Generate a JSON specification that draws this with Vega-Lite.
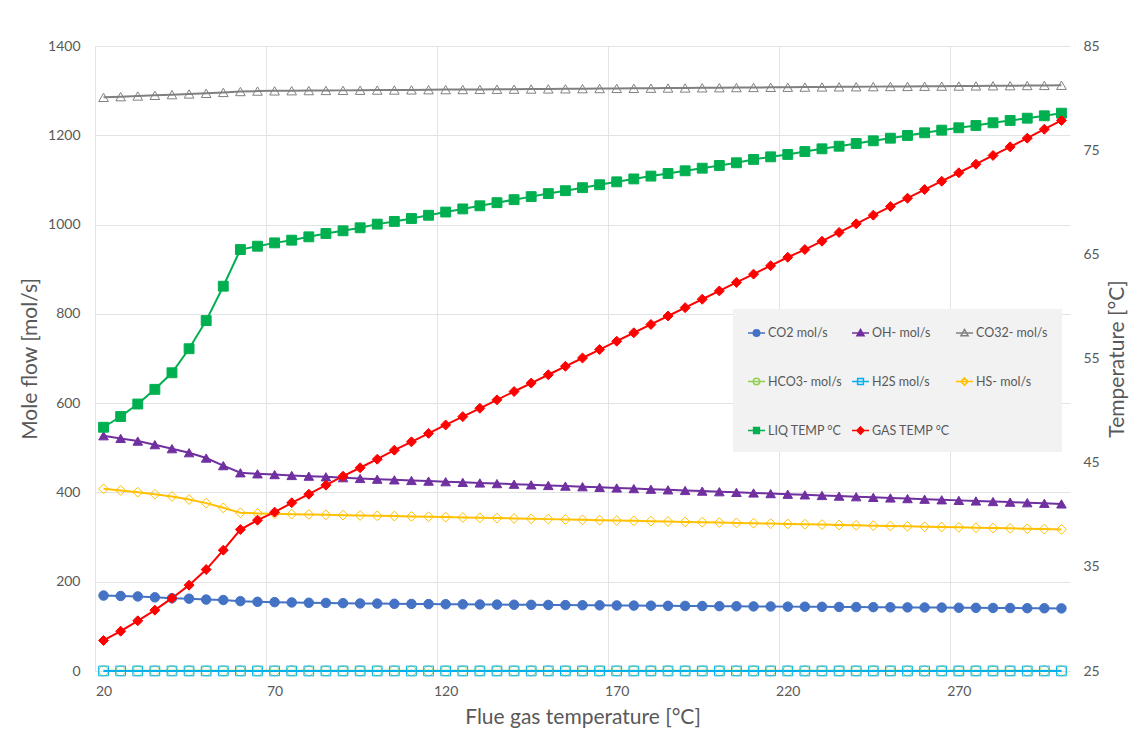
{
  "$schema": "https://vega.github.io/schema/vega-lite/v6.json",
  "width": 975,
  "height": 625,
  "autosize": {"type": "none"},
  "padding": {"left": 95, "top": 46, "right": 64, "bottom": 67},
  "background": "white",
  "config": {
    "font": "Lato",
    "view": {"stroke": null},
    "axis": {
      "labelFont": "Lato", "titleFont": "Lato", "labelColor": "#595959", "titleColor": "#595959",
      "titleFontWeight": "normal", "domain": false, "ticks": false, "gridColor": "#e3e3e3",
      "labelFontSize": 14, "titleFontSize": 21
    }
  },
  "data": {"values": [
    {"T":20,"CO2 mol/s":169,"OH- mol/s":527,"CO32- mol/s":1285,"HCO3- mol/s":0.3,"H2S mol/s":0.1,"HS- mol/s":408,"LIQ TEMP °C":48.40,"GAS TEMP °C":27.93},
    {"T":25,"CO2 mol/s":168,"OH- mol/s":521,"CO32- mol/s":1286.5,"HCO3- mol/s":0.3,"H2S mol/s":0.1,"HS- mol/s":404.5,"LIQ TEMP °C":49.43,"GAS TEMP °C":28.82},
    {"T":30,"CO2 mol/s":167,"OH- mol/s":515,"CO32- mol/s":1288,"HCO3- mol/s":0.3,"H2S mol/s":0.1,"HS- mol/s":400.5,"LIQ TEMP °C":50.63,"GAS TEMP °C":29.82},
    {"T":35,"CO2 mol/s":165,"OH- mol/s":507,"CO32- mol/s":1289.5,"HCO3- mol/s":0.3,"H2S mol/s":0.1,"HS- mol/s":396,"LIQ TEMP °C":52.04,"GAS TEMP °C":30.84},
    {"T":40,"CO2 mol/s":163,"OH- mol/s":498,"CO32- mol/s":1291,"HCO3- mol/s":0.3,"H2S mol/s":0.1,"HS- mol/s":391,"LIQ TEMP °C":53.63,"GAS TEMP °C":31.99},
    {"T":45,"CO2 mol/s":162,"OH- mol/s":489,"CO32- mol/s":1292.5,"HCO3- mol/s":0.3,"H2S mol/s":0.1,"HS- mol/s":384,"LIQ TEMP °C":55.94,"GAS TEMP °C":33.24},
    {"T":50,"CO2 mol/s":160,"OH- mol/s":477,"CO32- mol/s":1294,"HCO3- mol/s":0.3,"H2S mol/s":0.1,"HS- mol/s":376,"LIQ TEMP °C":58.64,"GAS TEMP °C":34.74},
    {"T":55,"CO2 mol/s":159,"OH- mol/s":460,"CO32- mol/s":1296,"HCO3- mol/s":0.3,"H2S mol/s":0.1,"HS- mol/s":365.5,"LIQ TEMP °C":61.94,"GAS TEMP °C":36.60},
    {"T":60,"CO2 mol/s":156.5,"OH- mol/s":444,"CO32- mol/s":1298,"HCO3- mol/s":0.3,"H2S mol/s":0.1,"HS- mol/s":354.5,"LIQ TEMP °C":65.46,"GAS TEMP °C":38.58},
    {"T":65,"CO2 mol/s":155,"OH- mol/s":441.7,"CO32- mol/s":1299,"HCO3- mol/s":0.3,"H2S mol/s":0.1,"HS- mol/s":353,"LIQ TEMP °C":65.78,"GAS TEMP °C":39.48},
    {"T":70,"CO2 mol/s":154.2,"OH- mol/s":440,"CO32- mol/s":1299.5,"HCO3- mol/s":0.3,"H2S mol/s":0.1,"HS- mol/s":352,"LIQ TEMP °C":66.10,"GAS TEMP °C":40.25},
    {"T":75,"CO2 mol/s":153.5,"OH- mol/s":438,"CO32- mol/s":1299.8,"HCO3- mol/s":0.3,"H2S mol/s":0.1,"HS- mol/s":351.3,"LIQ TEMP °C":66.36,"GAS TEMP °C":41.15},
    {"T":80,"CO2 mol/s":152.8,"OH- mol/s":436.5,"CO32- mol/s":1300.1,"HCO3- mol/s":0.3,"H2S mol/s":0.1,"HS- mol/s":350.6,"LIQ TEMP °C":66.68,"GAS TEMP °C":41.97},
    {"T":85,"CO2 mol/s":152.5,"OH- mol/s":435,"CO32- mol/s":1300.4,"HCO3- mol/s":0.3,"H2S mol/s":0.1,"HS- mol/s":349.8,"LIQ TEMP °C":67.00,"GAS TEMP °C":42.84},
    {"T":90,"CO2 mol/s":152,"OH- mol/s":433,"CO32- mol/s":1300.6,"HCO3- mol/s":0.3,"H2S mol/s":0.1,"HS- mol/s":349.1,"LIQ TEMP °C":67.26,"GAS TEMP °C":43.70},
    {"T":95,"CO2 mol/s":151.3,"OH- mol/s":431.3,"CO32- mol/s":1300.9,"HCO3- mol/s":0.3,"H2S mol/s":0.1,"HS- mol/s":348.4,"LIQ TEMP °C":67.55,"GAS TEMP °C":44.51},
    {"T":100,"CO2 mol/s":151,"OH- mol/s":429.7,"CO32- mol/s":1301.2,"HCO3- mol/s":0.3,"H2S mol/s":0.1,"HS- mol/s":347.7,"LIQ TEMP °C":67.90,"GAS TEMP °C":45.33},
    {"T":105,"CO2 mol/s":150.5,"OH- mol/s":428.2,"CO32- mol/s":1301.4,"HCO3- mol/s":0.3,"H2S mol/s":0.1,"HS- mol/s":347.0,"LIQ TEMP °C":68.16,"GAS TEMP °C":46.20},
    {"T":110,"CO2 mol/s":150.2,"OH- mol/s":426.8,"CO32- mol/s":1301.7,"HCO3- mol/s":0.3,"H2S mol/s":0.1,"HS- mol/s":346.3,"LIQ TEMP °C":68.44,"GAS TEMP °C":47.00},
    {"T":115,"CO2 mol/s":149.9,"OH- mol/s":425.4,"CO32- mol/s":1302.0,"HCO3- mol/s":0.3,"H2S mol/s":0.1,"HS- mol/s":345.5,"LIQ TEMP °C":68.75,"GAS TEMP °C":47.81},
    {"T":120,"CO2 mol/s":149.6,"OH- mol/s":424.0,"CO32- mol/s":1302.3,"HCO3- mol/s":0.3,"H2S mol/s":0.1,"HS- mol/s":344.8,"LIQ TEMP °C":69.06,"GAS TEMP °C":48.62},
    {"T":125,"CO2 mol/s":149.3,"OH- mol/s":422.6,"CO32- mol/s":1302.5,"HCO3- mol/s":0.3,"H2S mol/s":0.1,"HS- mol/s":344.0,"LIQ TEMP °C":69.36,"GAS TEMP °C":49.42},
    {"T":130,"CO2 mol/s":149.0,"OH- mol/s":421.2,"CO32- mol/s":1302.8,"HCO3- mol/s":0.3,"H2S mol/s":0.1,"HS- mol/s":343.2,"LIQ TEMP °C":69.66,"GAS TEMP °C":50.22},
    {"T":135,"CO2 mol/s":148.7,"OH- mol/s":419.8,"CO32- mol/s":1303.1,"HCO3- mol/s":0.3,"H2S mol/s":0.1,"HS- mol/s":342.5,"LIQ TEMP °C":69.96,"GAS TEMP °C":51.03},
    {"T":140,"CO2 mol/s":148.4,"OH- mol/s":418.4,"CO32- mol/s":1303.3,"HCO3- mol/s":0.3,"H2S mol/s":0.1,"HS- mol/s":341.7,"LIQ TEMP °C":70.25,"GAS TEMP °C":51.83},
    {"T":145,"CO2 mol/s":148.2,"OH- mol/s":417.0,"CO32- mol/s":1303.6,"HCO3- mol/s":0.3,"H2S mol/s":0.1,"HS- mol/s":340.9,"LIQ TEMP °C":70.54,"GAS TEMP °C":52.64},
    {"T":150,"CO2 mol/s":147.9,"OH- mol/s":415.6,"CO32- mol/s":1303.9,"HCO3- mol/s":0.3,"H2S mol/s":0.1,"HS- mol/s":340.2,"LIQ TEMP °C":70.83,"GAS TEMP °C":53.44},
    {"T":155,"CO2 mol/s":147.6,"OH- mol/s":414.2,"CO32- mol/s":1304.1,"HCO3- mol/s":0.3,"H2S mol/s":0.1,"HS- mol/s":339.4,"LIQ TEMP °C":71.11,"GAS TEMP °C":54.25},
    {"T":160,"CO2 mol/s":147.3,"OH- mol/s":412.8,"CO32- mol/s":1304.4,"HCO3- mol/s":0.3,"H2S mol/s":0.1,"HS- mol/s":338.6,"LIQ TEMP °C":71.40,"GAS TEMP °C":55.05},
    {"T":165,"CO2 mol/s":147.1,"OH- mol/s":411.4,"CO32- mol/s":1304.7,"HCO3- mol/s":0.3,"H2S mol/s":0.1,"HS- mol/s":337.9,"LIQ TEMP °C":71.68,"GAS TEMP °C":55.86},
    {"T":170,"CO2 mol/s":146.8,"OH- mol/s":410.0,"CO32- mol/s":1305.0,"HCO3- mol/s":0.3,"H2S mol/s":0.1,"HS- mol/s":337.1,"LIQ TEMP °C":71.96,"GAS TEMP °C":56.66},
    {"T":175,"CO2 mol/s":146.5,"OH- mol/s":408.6,"CO32- mol/s":1305.2,"HCO3- mol/s":0.3,"H2S mol/s":0.1,"HS- mol/s":336.3,"LIQ TEMP °C":72.24,"GAS TEMP °C":57.47},
    {"T":180,"CO2 mol/s":146.3,"OH- mol/s":407.2,"CO32- mol/s":1305.5,"HCO3- mol/s":0.3,"H2S mol/s":0.1,"HS- mol/s":335.6,"LIQ TEMP °C":72.51,"GAS TEMP °C":58.27},
    {"T":185,"CO2 mol/s":146.0,"OH- mol/s":405.8,"CO32- mol/s":1305.8,"HCO3- mol/s":0.3,"H2S mol/s":0.1,"HS- mol/s":334.8,"LIQ TEMP °C":72.76,"GAS TEMP °C":59.08},
    {"T":190,"CO2 mol/s":145.8,"OH- mol/s":404.4,"CO32- mol/s":1306.0,"HCO3- mol/s":0.3,"H2S mol/s":0.1,"HS- mol/s":334.0,"LIQ TEMP °C":73.02,"GAS TEMP °C":59.88},
    {"T":195,"CO2 mol/s":145.5,"OH- mol/s":403.0,"CO32- mol/s":1306.3,"HCO3- mol/s":0.3,"H2S mol/s":0.1,"HS- mol/s":333.3,"LIQ TEMP °C":73.27,"GAS TEMP °C":60.69},
    {"T":200,"CO2 mol/s":145.2,"OH- mol/s":401.6,"CO32- mol/s":1306.6,"HCO3- mol/s":0.3,"H2S mol/s":0.1,"HS- mol/s":332.5,"LIQ TEMP °C":73.53,"GAS TEMP °C":61.49},
    {"T":205,"CO2 mol/s":145.0,"OH- mol/s":400.2,"CO32- mol/s":1306.8,"HCO3- mol/s":0.3,"H2S mol/s":0.1,"HS- mol/s":331.7,"LIQ TEMP °C":73.79,"GAS TEMP °C":62.30},
    {"T":210,"CO2 mol/s":144.7,"OH- mol/s":398.8,"CO32- mol/s":1307.1,"HCO3- mol/s":0.3,"H2S mol/s":0.1,"HS- mol/s":331.0,"LIQ TEMP °C":74.11,"GAS TEMP °C":63.10},
    {"T":215,"CO2 mol/s":144.5,"OH- mol/s":397.4,"CO32- mol/s":1307.4,"HCO3- mol/s":0.3,"H2S mol/s":0.1,"HS- mol/s":330.2,"LIQ TEMP °C":74.36,"GAS TEMP °C":63.91},
    {"T":220,"CO2 mol/s":144.2,"OH- mol/s":396.0,"CO32- mol/s":1307.6,"HCO3- mol/s":0.3,"H2S mol/s":0.1,"HS- mol/s":329.4,"LIQ TEMP °C":74.59,"GAS TEMP °C":64.72},
    {"T":225,"CO2 mol/s":144.0,"OH- mol/s":394.6,"CO32- mol/s":1307.9,"HCO3- mol/s":0.3,"H2S mol/s":0.1,"HS- mol/s":328.7,"LIQ TEMP °C":74.87,"GAS TEMP °C":65.46},
    {"T":230,"CO2 mol/s":143.7,"OH- mol/s":393.2,"CO32- mol/s":1308.2,"HCO3- mol/s":0.3,"H2S mol/s":0.1,"HS- mol/s":327.9,"LIQ TEMP °C":75.13,"GAS TEMP °C":66.26},
    {"T":235,"CO2 mol/s":143.5,"OH- mol/s":391.8,"CO32- mol/s":1308.5,"HCO3- mol/s":0.3,"H2S mol/s":0.1,"HS- mol/s":327.1,"LIQ TEMP °C":75.38,"GAS TEMP °C":67.10},
    {"T":240,"CO2 mol/s":143.2,"OH- mol/s":390.4,"CO32- mol/s":1308.7,"HCO3- mol/s":0.3,"H2S mol/s":0.1,"HS- mol/s":326.4,"LIQ TEMP °C":75.64,"GAS TEMP °C":67.93},
    {"T":245,"CO2 mol/s":143.0,"OH- mol/s":389.0,"CO32- mol/s":1309.0,"HCO3- mol/s":0.3,"H2S mol/s":0.1,"HS- mol/s":325.6,"LIQ TEMP °C":75.90,"GAS TEMP °C":68.76},
    {"T":250,"CO2 mol/s":142.7,"OH- mol/s":387.6,"CO32- mol/s":1309.3,"HCO3- mol/s":0.3,"H2S mol/s":0.1,"HS- mol/s":324.8,"LIQ TEMP °C":76.15,"GAS TEMP °C":69.59},
    {"T":255,"CO2 mol/s":142.5,"OH- mol/s":386.2,"CO32- mol/s":1309.5,"HCO3- mol/s":0.3,"H2S mol/s":0.1,"HS- mol/s":324.1,"LIQ TEMP °C":76.41,"GAS TEMP °C":70.39},
    {"T":260,"CO2 mol/s":142.2,"OH- mol/s":384.8,"CO32- mol/s":1309.8,"HCO3- mol/s":0.3,"H2S mol/s":0.1,"HS- mol/s":323.3,"LIQ TEMP °C":76.67,"GAS TEMP °C":71.22},
    {"T":265,"CO2 mol/s":142.0,"OH- mol/s":383.5,"CO32- mol/s":1310.1,"HCO3- mol/s":0.3,"H2S mol/s":0.1,"HS- mol/s":322.5,"LIQ TEMP °C":76.92,"GAS TEMP °C":72.02},
    {"T":270,"CO2 mol/s":141.7,"OH- mol/s":382.2,"CO32- mol/s":1310.3,"HCO3- mol/s":0.3,"H2S mol/s":0.1,"HS- mol/s":321.8,"LIQ TEMP °C":77.15,"GAS TEMP °C":72.83},
    {"T":275,"CO2 mol/s":141.5,"OH- mol/s":380.9,"CO32- mol/s":1310.6,"HCO3- mol/s":0.3,"H2S mol/s":0.1,"HS- mol/s":321.0,"LIQ TEMP °C":77.37,"GAS TEMP °C":73.65},
    {"T":280,"CO2 mol/s":141.2,"OH- mol/s":379.6,"CO32- mol/s":1310.9,"HCO3- mol/s":0.3,"H2S mol/s":0.1,"HS- mol/s":320.2,"LIQ TEMP °C":77.63,"GAS TEMP °C":74.49},
    {"T":285,"CO2 mol/s":141.0,"OH- mol/s":378.3,"CO32- mol/s":1311.1,"HCO3- mol/s":0.3,"H2S mol/s":0.1,"HS- mol/s":319.5,"LIQ TEMP °C":77.85,"GAS TEMP °C":75.32},
    {"T":290,"CO2 mol/s":140.7,"OH- mol/s":377.0,"CO32- mol/s":1311.4,"HCO3- mol/s":0.3,"H2S mol/s":0.1,"HS- mol/s":318.7,"LIQ TEMP °C":78.07,"GAS TEMP °C":76.15},
    {"T":295,"CO2 mol/s":140.5,"OH- mol/s":375.6,"CO32- mol/s":1311.7,"HCO3- mol/s":0.3,"H2S mol/s":0.1,"HS- mol/s":317.9,"LIQ TEMP °C":78.30,"GAS TEMP °C":77.01},
    {"T":300,"CO2 mol/s":140.2,"OH- mol/s":374.3,"CO32- mol/s":1312.0,"HCO3- mol/s":0.3,"H2S mol/s":0.1,"HS- mol/s":317.2,"LIQ TEMP °C":78.55,"GAS TEMP °C":77.85}
  ]},
  "transform": [
    {"fold": ["CO2 mol/s","OH- mol/s","CO32- mol/s","HCO3- mol/s","H2S mol/s","HS- mol/s","LIQ TEMP °C","GAS TEMP °C"], "as": ["series","value"]},
    {"calculate": "datum.series", "as": "marker"}
  ],
  "encoding": {
    "x": {
      "field": "T", "type": "quantitative",
      "scale": {"domain": [17.5, 302.5], "nice": false, "zero": false},
      "axis": {
        "title": "Flue gas temperature [°C]", "values": [20,70,120,170,220,270],
        "tickOffset": -8.55, "labelOffset": 8.55, "grid": true, "labelPadding": 13, "titlePadding": 8
      }
    },
    "stroke": {
      "field": "series", "type": "nominal",
      "scale": {
        "domain": ["CO2 mol/s","OH- mol/s","CO32- mol/s","HCO3- mol/s","H2S mol/s","HS- mol/s","LIQ TEMP °C","GAS TEMP °C"],
        "range": ["#4472C4","#7030A0","#808080","#92D050","#00B0F0","#FFC000","#00B050","#FF0000"]
      },
      "legend": {
        "title": null, "orient": "none", "legendX": 638, "legendY": 263, "direction": "horizontal",
        "columns": 3, "gridAlign": "all", "columnPadding": 3, "rowPadding": 32, "padding": 14,
        "fillColor": "#f2f2f2", "strokeColor": null,
        "symbolSize": 289, "symbolStrokeWidth": 1.5, "symbolOpacity": 1,
        "labelFont": "Lato", "labelFontSize": 12.5, "labelColor": "#595959", "labelOffset": 2, "labelLimit": 200,
        "encoding": {
          "symbols": {
            "shape": {"value": {"expr": "['M-1,0H1M-0.38,0A0.38,0.38 0 1,0 0.38,0A0.38,0.38 0 1,0 -0.38,0Z','M-1,0H1M0,-0.42L0.42,0.32L-0.42,0.32Z','M-1,0H1M0,-0.42L0.42,0.32L-0.42,0.32Z','M-1,0H1M-0.38,0A0.38,0.38 0 1,0 0.38,0A0.38,0.38 0 1,0 -0.38,0Z','M-1,0H1M-0.34,-0.34H0.34V0.34H-0.34Z','M-1,0H1M0,-0.42L0.42,0L0,0.42L-0.42,0Z','M-1,0H1M-0.34,-0.34H0.34V0.34H-0.34Z','M-1,0H1M0,-0.42L0.42,0L0,0.42L-0.42,0Z'][indexof(['CO2 mol/s','OH- mol/s','CO32- mol/s','HCO3- mol/s','H2S mol/s','HS- mol/s','LIQ TEMP °C','GAS TEMP °C'], datum.value)]"}},
            "fill": {"value": {"expr": "['#4472C4','#7030A0','transparent','transparent','transparent','transparent','#00B050','#FF0000'][indexof(['CO2 mol/s','OH- mol/s','CO32- mol/s','HCO3- mol/s','H2S mol/s','HS- mol/s','LIQ TEMP °C','GAS TEMP °C'], datum.value)]"}},
            "size": {"value": 289}
          }
        }
      }
    }
  },
  "layer": [
    {
      "transform": [{"filter": {"field": "series", "oneOf": ["CO2 mol/s","OH- mol/s","CO32- mol/s","HCO3- mol/s","H2S mol/s","HS- mol/s"]}}],
      "encoding": {
        "y": {
          "field": "value", "type": "quantitative",
          "scale": {"domain": [0, 1400], "nice": false},
          "axis": {"title": "Mole flow [mol/s]", "format": "d", "values": [0,200,400,600,800,1000,1200,1400], "grid": true, "labelPadding": 15, "titlePadding": 7}
        }
      },
      "layer": [
        {"mark": {"type": "line", "strokeWidth": 2}},
        {
          "mark": {"type": "point", "opacity": 1, "strokeWidth": 1},
          "encoding": {
            "shape": {"field": "marker", "type": "nominal", "legend": null, "scale": {
              "domain": ["CO2 mol/s","OH- mol/s","CO32- mol/s","HCO3- mol/s","H2S mol/s","HS- mol/s","LIQ TEMP °C","GAS TEMP °C","none"],
              "range": ["circle","triangle-up","triangle-up","circle","square","diamond","square","diamond","circle"]}},
            "fill": {"field": "marker", "type": "nominal", "legend": null, "scale": {
              "domain": ["CO2 mol/s","OH- mol/s","CO32- mol/s","HCO3- mol/s","H2S mol/s","HS- mol/s","LIQ TEMP °C","GAS TEMP °C","none"],
              "range": ["#4472C4","#7030A0","transparent","transparent","transparent","transparent","#00B050","#FF0000","transparent"]}},
            "size": {"field": "marker", "type": "nominal", "legend": null, "scale": {
              "domain": ["CO2 mol/s","OH- mol/s","CO32- mol/s","HCO3- mol/s","H2S mol/s","HS- mol/s","LIQ TEMP °C","GAS TEMP °C","none"],
              "range": [90, 100, 100, 70, 80, 110, 100, 110, 90]}}
          }
        }
      ]
    },
    {
      "transform": [{"filter": {"field": "series", "oneOf": ["LIQ TEMP °C","GAS TEMP °C"]}}],
      "encoding": {
        "y": {
          "field": "value", "type": "quantitative",
          "scale": {"domain": [25, 85], "nice": false, "zero": false},
          "axis": {"orient": "right", "title": "Temperature [°C]", "values": [25,35,45,55,65,75,85], "grid": false, "labelPadding": 13, "titlePadding": 28, "titleAngle": 270}
        }
      },
      "layer": [
        {"mark": {"type": "line", "strokeWidth": 2}},
        {
          "mark": {"type": "point", "opacity": 1, "strokeWidth": 1},
          "encoding": {
            "shape": {"field": "marker", "type": "nominal", "legend": null},
            "fill": {"field": "marker", "type": "nominal", "legend": null},
            "size": {"field": "marker", "type": "nominal", "legend": null}
          }
        }
      ]
    }
  ],
  "resolve": {"scale": {"y": "independent"}}
}
